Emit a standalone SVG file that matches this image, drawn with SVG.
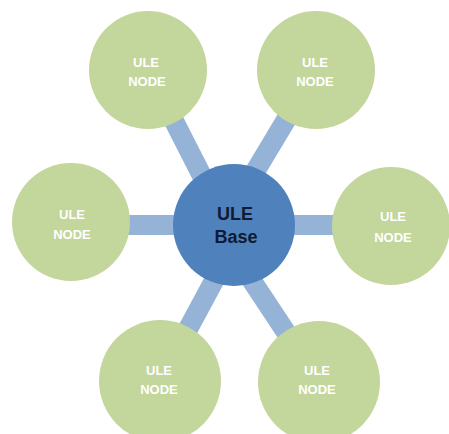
<svg xmlns="http://www.w3.org/2000/svg" width="449" height="434" viewBox="0 0 449 434">
  <style>
    .link { stroke: #95b3d7; stroke-width: 20; stroke-linecap: butt; fill: none; }
    .node circle { fill: #c3d69b; }
    .node text { fill: #ffffff; font-family: "Liberation Sans", Arial, sans-serif; font-weight: bold; font-size: 13px; text-anchor: middle; }
    .hub circle { fill: #4f81bd; }
    .hub text { fill: #0f1a33; font-family: "Liberation Sans", Arial, sans-serif; font-weight: bold; font-size: 18px; text-anchor: middle; }
  </style>
  <rect width="449" height="434" fill="#ffffff"/>

  <!-- spokes joining the base to each node -->
  <g id="connectors">
    <line class="link" x1="71" y1="225" x2="391" y2="225"/>
    <line class="link" x1="148" y1="70" x2="227" y2="225"/>
    <line class="link" x1="316" y1="70" x2="223" y2="225"/>
    <line class="link" x1="160" y1="381" x2="244" y2="225"/>
    <line class="link" x1="319" y1="382" x2="215" y2="225"/>
  </g>

  <g id="node-top-left" class="node">
    <circle cx="148" cy="70" r="59"/>
    <text x="146" y="67">ULE</text>
    <text x="147" y="86">NODE</text>
  </g>
  <g id="node-top-right" class="node">
    <circle cx="316" cy="70" r="59"/>
    <text x="315" y="67">ULE</text>
    <text x="315" y="86">NODE</text>
  </g>
  <g id="node-left" class="node">
    <circle cx="71" cy="222" r="59"/>
    <text x="72" y="219">ULE</text>
    <text x="72" y="239">NODE</text>
  </g>
  <g id="node-right" class="node">
    <circle cx="391" cy="226" r="59"/>
    <text x="393" y="221">ULE</text>
    <text x="393" y="242">NODE</text>
  </g>
  <g id="node-bottom-left" class="node">
    <circle cx="160" cy="381" r="61"/>
    <text x="159" y="375">ULE</text>
    <text x="159" y="394">NODE</text>
  </g>
  <g id="node-bottom-right" class="node">
    <circle cx="319" cy="382" r="61"/>
    <text x="317" y="375">ULE</text>
    <text x="317" y="394">NODE</text>
  </g>

  <g id="base" class="hub">
    <circle cx="234" cy="225" r="61"/>
    <text x="235" y="220">ULE</text>
    <text x="236" y="243">Base</text>
  </g>
</svg>
